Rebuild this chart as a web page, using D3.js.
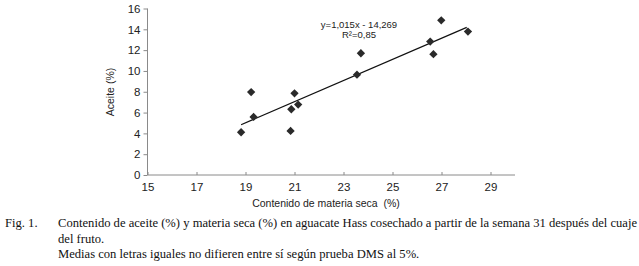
<!DOCTYPE html>
<html>
<head>
<meta charset="utf-8">
<script src="https://cdn.jsdelivr.net/npm/d3@7"></script>
<style>
  body { margin: 0; background: #fff; }
  svg text { font-family: "Liberation Sans", Arial, sans-serif; }
</style>
</head>
<body>
<div class="canvas"></div>
<script>
// materia seca (%) vs aceite (%)
const materiaSeca = [18.82, 19.23, 19.33, 20.84, 20.87, 21.0, 21.15, 23.55, 23.71, 26.54, 26.67, 26.99, 28.08];
const aceite      = [4.11, 7.97, 5.58, 4.24, 6.32, 7.85, 6.77, 9.64, 11.70, 12.82, 11.61, 14.86, 13.78];
const xTicks = [15, 17, 19, 21, 23, 25, 27, 29];
const yTicks = [0, 2, 4, 6, 8, 10, 12, 14, 16];
const slope = 1.015, intercept = -14.269;
const eqLines = ["y=1,015x - 14,269", "R²=0,85"];
const captionLines = [
  "Contenido de aceite (%) y materia seca (%) en aguacate Hass cosechado a partir de la semana 31 después del cuaje",
  "del fruto.",
  "Medias con letras iguales no difieren entre sí según prueba DMS al 5%."
];

const svgWidth = 639, svgHeight = 266;
const svg = d3.select('.canvas').append('svg')
  .attr('width', svgWidth).attr('height', svgHeight);

const x = d3.scaleLinear().domain([15, 30]).range([147.5, 515]);
const y = d3.scaleLinear().domain([0, 16]).range([175, 8.5]);

// blur to mimic the soft markers
const defs = svg.append('defs');
defs.append('filter').attr('id', 'soft')
  .append('feGaussianBlur').attr('stdDeviation', 0.6);

// x axis
const xAxis = svg.append('g').attr('transform', `translate(0,${y(0)})`)
  .call(d3.axisBottom(x).tickValues(xTicks).tickSize(-3).tickPadding(8).tickFormat(d3.format('d')));
xAxis.select('.domain').attr('stroke', '#8a8a8a').attr('d', `M${x(15)},0H${x(30)}`);
xAxis.selectAll('.tick line').attr('stroke', '#8a8a8a');
xAxis.selectAll('text').attr('fill', '#222').style('font-size', '11.5px');

// y axis
const yAxis = svg.append('g').attr('transform', `translate(${x(15)},0)`)
  .call(d3.axisLeft(y).tickValues(yTicks).tickSize(4).tickPadding(3));
yAxis.select('.domain').attr('stroke', '#8a8a8a').attr('d', `M0,${y(16)}V${y(0)}`);
yAxis.selectAll('.tick line').attr('stroke', '#8a8a8a');
yAxis.selectAll('text').attr('fill', '#222').style('font-size', '11.5px');

// axis titles
svg.append('text').attr('x', 326).attr('y', 207).attr('text-anchor', 'middle')
  .style('font-size', '10.5px').style('white-space', 'pre').attr('fill', '#222')
  .text('Contenido de materia seca  (%)');
svg.append('text').attr('transform', 'translate(114,92) rotate(-90)').attr('text-anchor', 'middle')
  .style('font-size', '10.5px').attr('fill', '#222').text('Aceite (%)');

// trend line
const xr = d3.extent(materiaSeca);
svg.append('line')
  .attr('x1', x(xr[0])).attr('y1', y(slope * xr[0] + intercept))
  .attr('x2', x(xr[1] - 0.05)).attr('y2', y(slope * (xr[1] - 0.05) + intercept))
  .attr('stroke', '#111').attr('stroke-width', 1.2);

// points
const diamond = d3.symbol().type(d3.symbolDiamond2).size(44);
svg.append('g').attr('filter', 'url(#soft)')
  .selectAll('path').data(materiaSeca).enter().append('path')
  .attr('d', diamond)
  .attr('fill', '#2a2a2a')
  .attr('transform', (d, i) => `translate(${x(d)},${y(aceite[i])})`);

// equation
svg.append('g').selectAll('text').data(eqLines).enter().append('text')
  .attr('x', 359).attr('y', (d, i) => 27.5 + i * 10)
  .attr('text-anchor', 'middle').style('font-size', '9.5px').attr('fill', '#222')
  .text(d => d);

// caption
const cap = svg.append('g');
cap.append('text').attr('x', 5).attr('y', 227).style('font-size', '12.6px').attr('fill', '#111')
  .style('font-family', '"Liberation Serif", serif').text('Fig. 1.');
cap.selectAll('text.cl').data(captionLines).enter().append('text').attr('class', 'cl')
  .attr('x', 58).attr('y', (d, i) => 227 + i * 15.5)
  .style('font-size', '12.6px').style('font-family', '"Liberation Serif", serif').attr('fill', '#111')
  .text(d => d);
</script>
</body>
</html>
